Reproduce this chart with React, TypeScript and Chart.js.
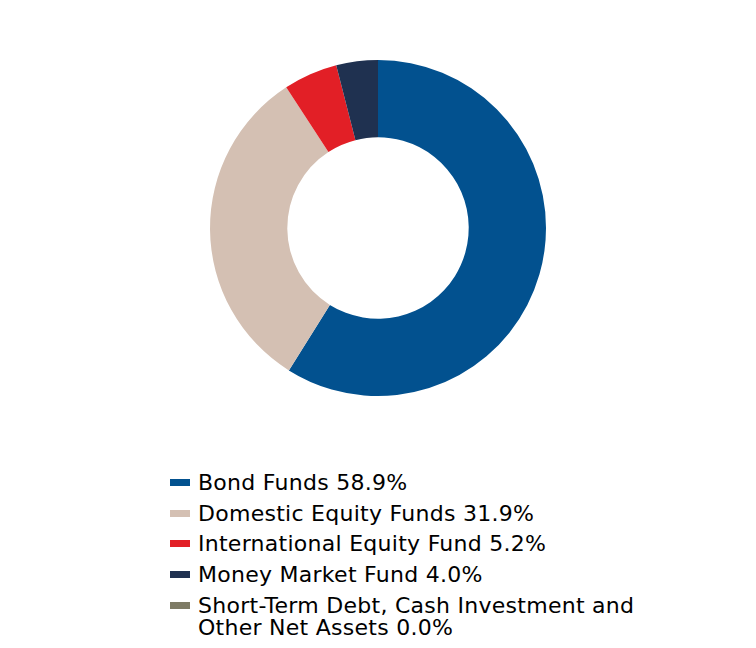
import React, { useEffect, useRef } from "react";
import { Chart, registerables } from "chart.js";

Chart.register(...registerables);

const categories = [
  "Bond Funds",
  "Domestic Equity Funds",
  "International Equity Fund",
  "Money Market Fund",
  "Short-Term Debt, Cash Investment and Other Net Assets",
];
const values = [58.9, 31.9, 5.2, 4.0, 0.0];
const colors = ["#02518F", "#D4C0B3", "#E21F26", "#1F3150", "#7E7B65"];

export default function App() {
  const ref = useRef<HTMLCanvasElement | null>(null);

  useEffect(() => {
    if (!ref.current) return;
    const chart = new Chart(ref.current, {
      type: "doughnut",
      data: {
        labels: categories,
        datasets: [
          {
            data: values,
            backgroundColor: colors,
            borderWidth: 0,
          },
        ],
      },
      options: {
        responsive: false,
        animation: false,
        cutout: "54%",
        layout: { padding: { top: 52, bottom: 52, left: 0, right: 0 } },
        plugins: {
          legend: { display: false },
          tooltip: { enabled: false },
        },
      },
    });
    return () => chart.destroy();
  }, []);

  return (
    <div style={{ position: "relative", width: 740, height: 632, fontFamily: "'DejaVu Sans', Verdana, sans-serif" }}>
      <canvas ref={ref} width={740} height={440} style={{ display: "block", width: 740, height: 440 }} />
      <div style={{ position: "absolute", left: 162, top: 464 }}>
        {categories.map((c, i) => (
          <div key={c} style={{ display: "flex", alignItems: "flex-start", marginBottom: 8.7 }}>
            <div style={{ width: 20, height: 7, marginTop: 7, background: colors[i], flex: "none" }} />
            <div style={{ marginLeft: 8, fontSize: 22, letterSpacing: "0.27px", lineHeight: "22px", color: "#000", maxWidth: 460 }}>
              {c} {values[i].toFixed(1)}%
            </div>
          </div>
        ))}
      </div>
    </div>
  );
}
